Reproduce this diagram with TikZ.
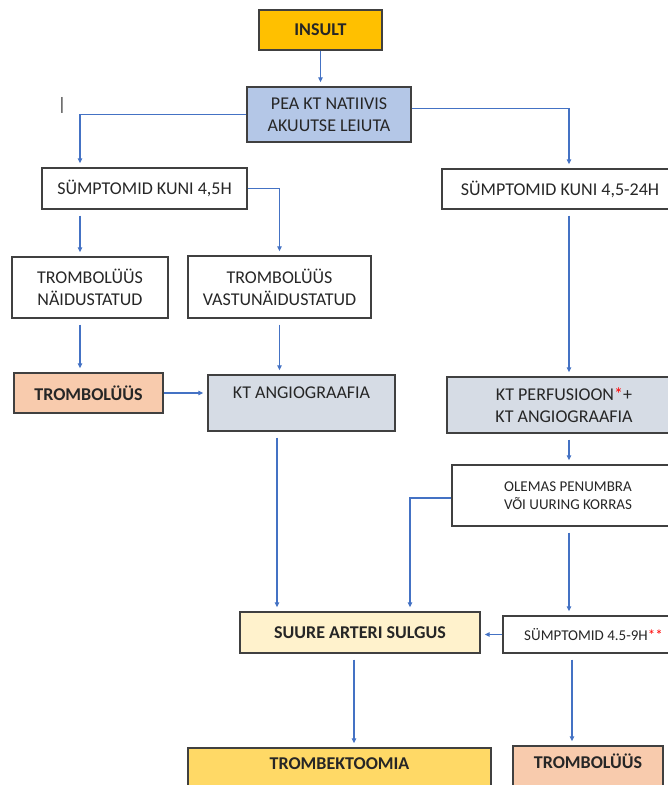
\documentclass[tikz,border=0pt]{standalone}
\usepackage{fontspec}
\setmainfont{Carlito}
\usetikzlibrary{arrows.meta,positioning,calc}
\definecolor{insultgold}{HTML}{FFC000}
\definecolor{peablue}{HTML}{B4C7E7}
\definecolor{trombpeach}{HTML}{F8CBAD}
\definecolor{ktgray}{HTML}{D6DCE5}
\definecolor{suureyellow}{HTML}{FFF2CC}
\definecolor{trombgold}{HTML}{FFD966}
\definecolor{arrowblue}{HTML}{4472C4}
\definecolor{boxgray}{HTML}{404040}

\begin{document}
\begin{tikzpicture}[x=1pt, y=-1pt, font=\fontsize{18}{22}\selectfont, box/.style={draw=boxgray, line width=1.4pt, align=center, inner sep=2pt, text=black!85}, small/.style={font=\fontsize{15}{18}\selectfont}, hi/.style={font=\fontsize{18}{22}\selectfont\bfseries}, toptext/.style={text height=12pt, text depth=22pt}, arr/.style={-{Triangle[length=5pt,width=4.5pt]}, draw=arrowblue, line width=1.2pt, shorten >=4pt}, gap/.style={shorten <=6pt}]
\useasboundingbox (0,0) rectangle (668,785);
\node[box, hi, fill=insultgold, minimum width=123pt, minimum height=40pt] (insult) at (320.5,30) {INSULT};
\node[box, fill=peablue, minimum width=164pt, minimum height=55pt] (pea) at (329,114.5) {PEA KT NATIIVIS\\AKUUTSE LEIUTA};
\node[text=black!80] (cursor) at (62,105) {|};
\node[box, minimum width=205pt, minimum height=41pt] (sym45) at (144.5,188.5) {SÜMPTOMID KUNI 4,5H};
\node[box, minimum width=236pt, minimum height=40pt] (sym24) at (560,189) {SÜMPTOMID KUNI 4,5-24H};
\node[box, minimum width=156pt, minimum height=61pt] (naid) at (90,287.5) {TROMBOLÜÜS\\NÄIDUSTATUD};
\node[box, minimum width=183pt, minimum height=62pt] (vastu) at (279.5,287) {TROMBOLÜÜS\\VASTUNÄIDUSTATUD};
\node[box, hi, fill=trombpeach, minimum width=149pt, minimum height=40pt] (tromb) at (88.5,393) {TROMBOLÜÜS};
\node[box, toptext, fill=ktgray, minimum width=187pt, minimum height=56pt] (angio) at (301.5,403) {KT ANGIOGRAAFIA};
\node[box, fill=ktgray, minimum width=234pt, minimum height=56pt] (perf) at (564,405) {KT PERFUSIOON\textcolor{red}{*}+\\KT ANGIOGRAAFIA};
\node[box, small, minimum width=232pt, minimum height=61pt] (olemas) at (568,495.5) {OLEMAS PENUMBRA\\VÕI UURING KORRAS};
\node[box, hi, fill=suureyellow, minimum width=240pt, minimum height=41pt] (suure) at (360,632.5) {SUURE ARTERI SULGUS};
\node[box, small, minimum width=181pt, minimum height=37pt] (sym9) at (593.5,634.5) {SÜMPTOMID 4.5-9H\textcolor{red}{**}};
\node[box, hi, toptext, fill=trombgold, minimum width=303pt, minimum height=52pt] (trombekt) at (339.5,774) {TROMBEKTOOMIA};
\node[box, hi, toptext, fill=trombpeach, minimum width=150pt, minimum height=54pt] (tromb2) at (588,773) {TROMBOLÜÜS};
% columns of the vertical connectors
\coordinate (colA) at (80,0); \coordinate (colB) at (277,0); \coordinate (colC) at (569,0); \coordinate (colD) at (410,0); \coordinate (colE) at (354,0);
\draw[arr] (insult.south) -- (insult.south |- pea.north);
\draw[arr] (pea.west) -| (colA |- sym45.north); \draw[arr] ([yshift=6pt]pea.east) -| (colC |- sym24.north);
\draw[arr] (sym45.east) -| (vastu.north); \draw[arr, gap] (colA |- sym45.south) -- (colA |- naid.north);
\draw[arr, gap] (colA |- naid.south) -- (colA |- tromb.north); \draw[arr, gap] (vastu.south) -- (vastu.south |- angio.north);
\draw[arr] (tromb.east) -- (tromb.east -| angio.west);
\draw[arr, gap] (colC |- sym24.south) -- (colC |- perf.north); \draw[arr, gap] (colC |- perf.south) -- (colC |- olemas.north);
\draw[arr] ([yshift=-2.5pt]olemas.west) -| (colD |- suure.north); \draw[arr, gap] (colB |- angio.south) -- (colB |- suure.north);
\draw[arr, gap] (colC |- olemas.south) -- (colC |- sym9.north); \draw[arr] (sym9.west) -- (sym9.west -| suure.east);
\draw[arr, gap] (colE |- suure.south) -- (colE |- trombekt.north); \draw[arr, gap] ([xshift=3pt]colC |- sym9.south) -- ([xshift=3pt]colC |- tromb2.north);
\end{tikzpicture}
\end{document}
